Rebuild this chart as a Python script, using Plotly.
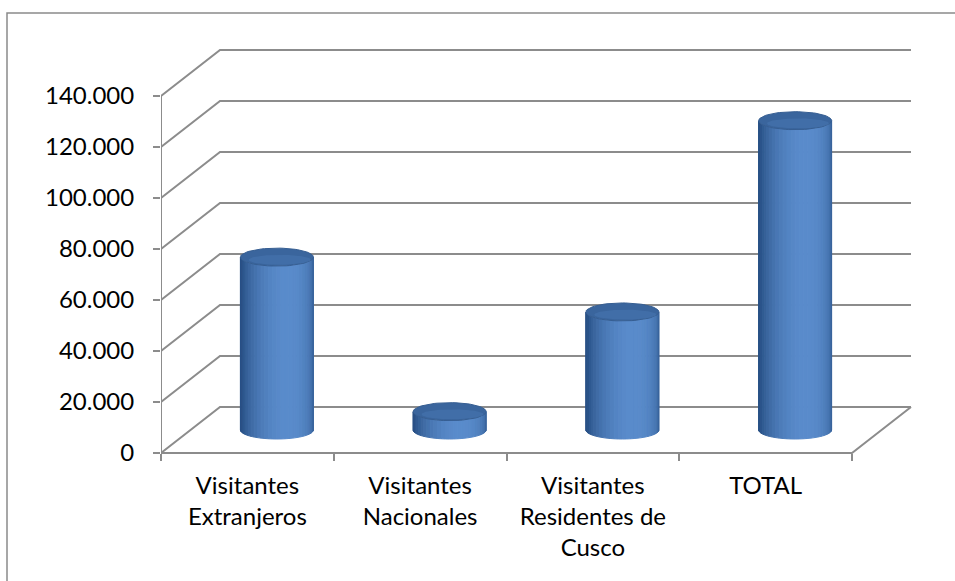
import numpy as np
import plotly.graph_objects as go

# ---- data ----
categories = ["Visitantes<br>Extranjeros", "Visitantes<br>Nacionales",
              "Visitantes<br>Residentes de<br>Cusco", "TOTAL"]
values = [67800, 7200, 46300, 121300]
y_ticks = [0, 20000, 40000, 60000, 80000, 100000, 120000, 140000]
y_tick_labels = ["0", "20.000", "40.000", "60.000", "80.000", "100.000", "120.000", "140.000"]

# ---- geometry (figure pixels -> axis units) ----
W, H = 955, 581
AX_LEFT_PX = 161
PX_PER_X = 172.75          # px per category
PX_PER_Y = 357 / 140000    # px per value unit
ZERO_PX = 453              # pixel row of value 0 (front)
DEPTH_DX = 59 / PX_PER_X   # oblique depth offset in x units
DEPTH_DY = 46 / PX_PER_Y   # oblique depth offset in y units
RX = 36.5 / PX_PER_X       # cylinder radius (x units)
RY = 9 / PX_PER_Y          # ellipse half-height (y units)

x_range = [-0.5, -0.5 + (W - AX_LEFT_PX) / PX_PER_X]
y_range = [-(H - ZERO_PX) / PX_PER_Y, ZERO_PX / PX_PER_Y]

GRID = "#8c8c8c"
fig = go.Figure()

def line(xs, ys, color=GRID, width=2):
    fig.add_trace(go.Scatter(x=xs, y=ys, mode="lines", hoverinfo="skip",
                             line=dict(color=color, width=width), showlegend=False))

n = len(categories)
x0 = -0.5
x1 = n - 0.5
# gridlines: side wall diagonal + back wall
for v in y_ticks:
    line([x0, x0 + DEPTH_DX, x1 + DEPTH_DX], [v, v + DEPTH_DY, v + DEPTH_DY])
# floor front + right edge
line([x0, x1, x1 + DEPTH_DX], [0, 0, DEPTH_DY])
# front vertical axis line
line([x0, x0], [0, y_ticks[-1]])

# ---- cylinders ----
dark = np.array([0x29, 0x51, 0x86])
light = np.array([0x5a, 0x8c, 0xcc])
def shade(phi):
    lightdir = 1.6 * np.pi
    t = max(0.0, np.cos(phi - lightdir))
    t = t ** 1.1
    c = dark + (light - dark) * t
    return "rgb(%d,%d,%d)" % tuple(c)

NS = 28
for i, v in enumerate(values):
    cx = i + DEPTH_DX / 2
    yb = DEPTH_DY / 2
    yt = v + DEPTH_DY / 2
    phis = np.linspace(np.pi, 2 * np.pi, NS + 1)
    for k in range(NS):
        ph = np.linspace(phis[k], phis[k + 1], 4)
        xs_arc = cx + RX * np.cos(ph)
        ys_arc = RY * np.sin(ph)
        xs = list(xs_arc) + list(xs_arc[::-1]) + [xs_arc[0]]
        ys = list(yb + ys_arc) + list(yt + ys_arc[::-1]) + [yb + ys_arc[0]]
        col = shade((phis[k] + phis[k + 1]) / 2)
        fig.add_trace(go.Scatter(x=xs, y=ys, mode="lines", fill="toself",
                                 fillcolor=col, line=dict(color=col, width=1),
                                 hoverinfo="skip", showlegend=False))
    # top ellipse
    ph = np.linspace(0, 2 * np.pi, 73)
    fig.add_trace(go.Scatter(x=cx + RX * np.cos(ph), y=yt + RY * np.sin(ph),
                             mode="lines", fill="toself", fillcolor="#3a659d",
                             line=dict(color="#365e92", width=1),
                             hoverinfo="skip", showlegend=False))
    # lighter lower part of the top face
    fig.add_trace(go.Scatter(x=cx + RX * 0.85 * np.cos(ph) + RX * 0.08,
                             y=yt - RY * 0.3 + RY * 0.55 * np.sin(ph),
                             mode="lines", fill="toself", fillcolor="rgba(80,128,190,0.35)",
                             line=dict(width=0), hoverinfo="skip", showlegend=False))

# invisible trace to establish category axis
fig.add_trace(go.Scatter(x=categories, y=[0] * n, xaxis="x2", mode="markers",
                         marker=dict(opacity=0), hoverinfo="skip", showlegend=False))

FONT = dict(family="Lato, 'Open Sans', sans-serif", size=24, color="#000000")
fig.update_layout(
    width=W, height=H,
    margin=dict(l=0, r=0, t=0, b=0),
    paper_bgcolor="white", plot_bgcolor="rgba(0,0,0,0)",
    showlegend=False,
    xaxis=dict(domain=[AX_LEFT_PX / W, 1], range=x_range, visible=False, fixedrange=True),
    xaxis2=dict(domain=[AX_LEFT_PX / W, 1], overlaying="x", anchor="free",
                position=(H - ZERO_PX) / H, type="category",
                categoryorder="array", categoryarray=categories,
                range=x_range, tickson="boundaries", ticks="outside", ticklen=7,
                tickwidth=2, tickcolor=GRID, showline=False, showgrid=False,
                zeroline=False, tickfont=FONT, ticklabelstandoff=16, automargin=False),
    yaxis=dict(domain=[0, 1], range=y_range, tickvals=y_ticks, ticktext=y_tick_labels,
               ticks="outside", ticklen=7, tickwidth=2, tickcolor=GRID,
               showline=False, showgrid=False, zeroline=False, tickfont=FONT,
               ticklabelstandoff=14, automargin=False, fixedrange=True),
    shapes=[dict(type="rect", xref="paper", yref="paper",
                 x0=7 / W, x1=1.05, y0=-0.05, y1=(H - 13) / H,
                 line=dict(color="#8a8a8a", width=1.5), fillcolor="rgba(0,0,0,0)",
                 layer="below")],
)

fig.write_html("out.html", config={"displayModeBar": False},
               post_script="document.body.style.margin='0';document.body.style.overflow='hidden';")
